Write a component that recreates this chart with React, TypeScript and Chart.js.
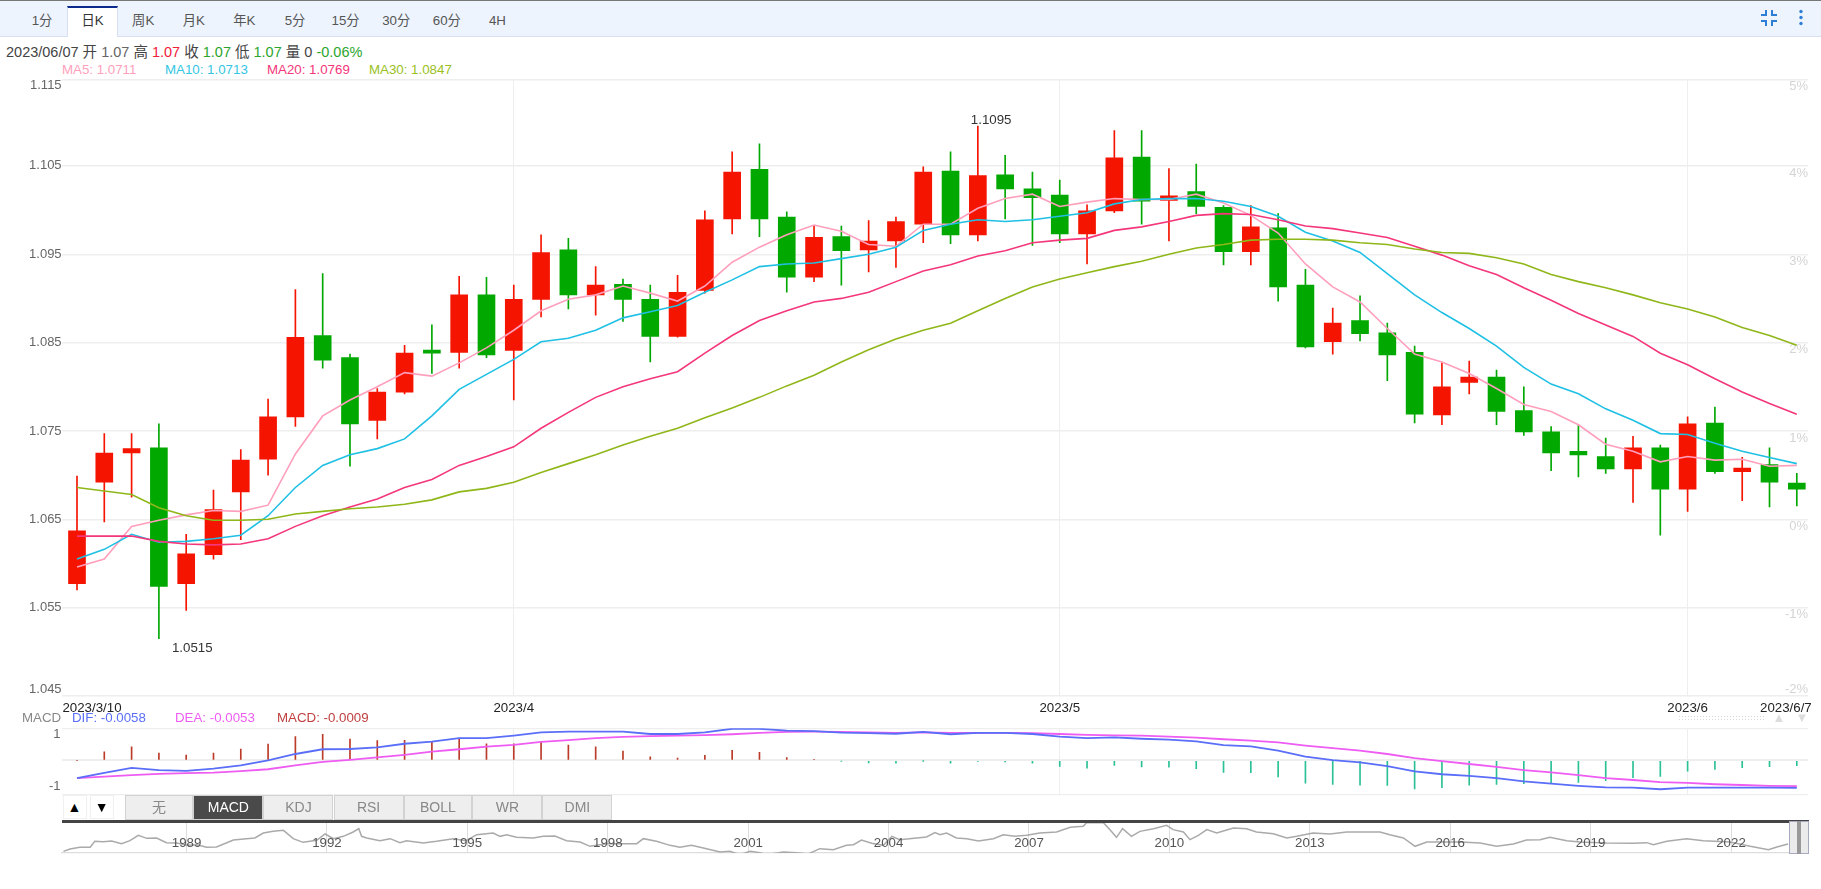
import React, { useEffect, useRef } from "react";
import { Chart, registerables } from "chart.js";

Chart.register(...registerables);

// ---------- data ----------
const dates = [
  "2023/3/10","2023/3/13","2023/3/14","2023/3/15","2023/3/16","2023/3/17","2023/3/20","2023/3/21","2023/3/22","2023/3/23","2023/3/24",
  "2023/3/27","2023/3/28","2023/3/29","2023/3/30","2023/3/31","2023/4/3","2023/4/4","2023/4/5","2023/4/6","2023/4/7",
  "2023/4/10","2023/4/11","2023/4/12","2023/4/13","2023/4/14","2023/4/17","2023/4/18","2023/4/19","2023/4/20","2023/4/21",
  "2023/4/24","2023/4/25","2023/4/26","2023/4/27","2023/4/28","2023/5/1","2023/5/2","2023/5/3","2023/5/4","2023/5/5",
  "2023/5/8","2023/5/9","2023/5/10","2023/5/11","2023/5/12","2023/5/15","2023/5/16","2023/5/17","2023/5/18","2023/5/19",
  "2023/5/22","2023/5/23","2023/5/24","2023/5/25","2023/5/26","2023/5/29","2023/5/30","2023/5/31","2023/6/1","2023/6/2",
  "2023/6/5","2023/6/6","2023/6/7",
];
const opens = [1.0577,1.0692,1.0725,1.0731,1.0577,1.061,1.0681,1.0718,1.0766,1.0858,1.0833,1.0762,1.0794,1.0839,1.0839,1.0904,1.0841,1.0899,1.0955,1.0904,1.0916,1.0899,1.0857,1.0909,1.099,1.1046,1.0992,1.0924,1.097,1.0955,1.0965,1.0984,1.1044,1.0972,1.104,1.1024,1.1017,1.0973,1.0999,1.106,1.1011,1.1021,1.1003,1.0953,1.098,1.0915,1.0851,1.0875,1.0861,1.0839,1.0768,1.0805,1.0811,1.0773,1.0749,1.0727,1.0721,1.0707,1.0731,1.0684,1.0759,1.0704,1.0712,1.0691];
const highs = [1.0699,1.0747,1.0747,1.0758,1.0633,1.0683,1.0729,1.0786,1.091,1.0928,1.0837,1.0798,1.0847,1.087,1.0925,1.0924,1.0915,1.0972,1.0968,1.0936,1.0922,1.0915,1.0926,1.0999,1.1066,1.1075,1.0998,1.0982,1.0982,1.0988,1.0992,1.1049,1.1066,1.1095,1.1062,1.1043,1.1034,1.1006,1.109,1.109,1.1047,1.1052,1.1005,1.1005,1.0996,1.0933,1.0889,1.0903,1.0872,1.0846,1.0827,1.0829,1.0819,1.08,1.0755,1.0757,1.0742,1.0744,1.0734,1.0766,1.0777,1.072,1.0731,1.0702];
const lows = [1.057,1.0647,1.0675,1.0515,1.0547,1.0605,1.0627,1.07,1.0755,1.0821,1.071,1.0741,1.0792,1.0815,1.0821,1.0833,1.0785,1.0879,1.0888,1.0881,1.0874,1.0828,1.0856,1.0906,1.0973,1.097,1.0907,1.0919,1.0915,1.093,1.0935,1.0963,1.0962,1.0965,1.099,1.096,1.0963,1.0939,1.0997,1.0984,1.0965,1.0996,1.0938,1.0938,1.0897,1.0844,1.0837,1.0852,1.0807,1.0759,1.0757,1.0792,1.0757,1.0745,1.0705,1.0698,1.0702,1.0669,1.0632,1.0659,1.0702,1.0671,1.0664,1.0665];
const closes = [1.0637,1.0725,1.073,1.0574,1.0611,1.0661,1.0717,1.0766,1.0856,1.083,1.0758,1.0794,1.0838,1.0838,1.0904,1.0836,1.0899,1.0952,1.0904,1.0915,1.0899,1.0857,1.0907,1.0989,1.1043,1.099,1.0924,1.0969,1.0954,1.0965,1.0987,1.1043,1.0972,1.1039,1.1024,1.1014,1.0973,1.0999,1.1059,1.101,1.1016,1.1004,1.0953,1.0981,1.0913,1.0845,1.0872,1.086,1.0836,1.0769,1.08,1.0811,1.0772,1.0749,1.0725,1.0723,1.0707,1.0731,1.0684,1.0758,1.0704,1.0708,1.0692,1.0684];
const ma5 = [1.0596,1.0605,1.0642,1.0649,1.0655,1.066,1.0659,1.0666,1.0724,1.0767,1.0785,1.08,1.0816,1.0812,1.0827,1.0844,1.0864,1.0886,1.0899,1.0904,1.0914,1.0906,1.0897,1.0914,1.0941,1.0958,1.0972,1.0983,1.0976,1.0961,1.0959,1.0984,1.0984,1.1002,1.1013,1.1018,1.1004,1.1009,1.1013,1.1012,1.1012,1.1018,1.1008,1.0994,1.0974,1.0939,1.0913,1.0896,1.0866,1.0837,1.0828,1.0815,1.0798,1.078,1.0772,1.0757,1.0735,1.0727,1.0715,1.0721,1.0717,1.0718,1.071,1.0711];
const ma10 = [1.0605,1.0616,1.0633,1.0624,1.0625,1.0628,1.0632,1.0654,1.0686,1.0711,1.0723,1.073,1.0741,1.0767,1.0797,1.0814,1.0831,1.0851,1.0855,1.0864,1.0878,1.0885,1.0892,1.0907,1.0921,1.0936,1.0939,1.094,1.0945,1.095,1.0958,1.0977,1.0984,1.0989,1.0987,1.0989,1.0993,1.0997,1.1007,1.1012,1.1013,1.1013,1.101,1.1004,1.0993,1.0975,1.0965,1.0952,1.0928,1.0904,1.0884,1.0866,1.0846,1.0822,1.0803,1.0792,1.0775,1.0762,1.0747,1.0746,1.0736,1.0727,1.072,1.0713];
const ma20 = [1.0631,1.0631,1.0631,1.0625,1.0622,1.0621,1.0622,1.0628,1.0642,1.0654,1.0664,1.0673,1.0686,1.0695,1.0711,1.0721,1.0732,1.0753,1.0771,1.0788,1.08,1.0809,1.0817,1.0838,1.0858,1.0875,1.0886,1.0896,1.09,1.0907,1.0919,1.0931,1.0938,1.0948,1.0954,1.0963,1.0966,1.0968,1.0977,1.0981,1.0987,1.0994,1.0996,1.0995,1.0989,1.0982,1.0979,1.0974,1.0969,1.0959,1.0949,1.0937,1.0927,1.0912,1.0898,1.0883,1.087,1.0857,1.0838,1.0825,1.0809,1.0794,1.0781,1.0769];
const ma30 = [1.0686,1.0682,1.0678,1.0663,1.0654,1.0649,1.0649,1.065,1.0656,1.0659,1.0662,1.0664,1.0667,1.0672,1.0681,1.0685,1.0692,1.0703,1.0713,1.0723,1.0734,1.0744,1.0753,1.0765,1.0776,1.0788,1.0801,1.0813,1.0828,1.0842,1.0854,1.0864,1.0872,1.0886,1.09,1.0913,1.0922,1.0929,1.0936,1.0942,1.095,1.0957,1.0961,1.0966,1.0967,1.0967,1.0966,1.0963,1.0961,1.0956,1.0952,1.0951,1.0946,1.0939,1.0927,1.0919,1.0912,1.0904,1.0895,1.0888,1.0879,1.0867,1.0858,1.0847];
const dif = [-0.68,-0.48,-0.29,-0.37,-0.4,-0.32,-0.19,0,0.24,0.42,0.43,0.49,0.63,0.71,0.84,0.84,0.94,1.06,1.09,1.09,1.09,1,1,1.06,1.2,1.2,1.13,1.11,1.05,1.03,1.01,1.08,0.99,1.04,1.04,1,0.9,0.84,0.87,0.82,0.79,0.72,0.58,0.53,0.37,0.14,0.01,-0.08,-0.22,-0.42,-0.53,-0.59,-0.68,-0.8,-0.89,-0.97,-1.03,-1.04,-1.1,-1.04,-1.04,-1.04,-1.04,-1.05];
const dea = [-0.68,-0.62,-0.56,-0.52,-0.49,-0.47,-0.41,-0.34,-0.19,-0.06,0.02,0.11,0.21,0.33,0.42,0.52,0.59,0.7,0.77,0.84,0.89,0.92,0.94,0.96,0.99,1.04,1.08,1.09,1.08,1.06,1.04,1.06,1.04,1.04,1.04,1.03,1,0.97,0.95,0.94,0.9,0.86,0.8,0.75,0.68,0.56,0.46,0.37,0.24,0.08,-0.03,-0.14,-0.25,-0.37,-0.46,-0.56,-0.68,-0.75,-0.83,-0.86,-0.91,-0.94,-0.97,-0.98];
const macdBars = [0,0.32,0.51,0.27,0.2,0.27,0.43,0.62,0.9,0.99,0.81,0.75,0.76,0.71,0.8,0.63,0.63,0.7,0.58,0.51,0.35,0.13,0.08,0.19,0.38,0.3,0.1,0.04,-0.03,-0.1,-0.11,-0.01,-0.11,-0.04,-0.06,-0.11,-0.23,-0.3,-0.19,-0.25,-0.26,-0.32,-0.46,-0.47,-0.63,-0.87,-0.92,-0.95,-0.96,-1.09,-1.04,-0.95,-0.92,-0.89,-0.89,-0.84,-0.77,-0.66,-0.61,-0.41,-0.35,-0.28,-0.24,-0.2];

const navYears = [1986.37,1986.51,1986.72,1986.94,1987.04,1987.22,1987.4,1987.61,1987.79,1987.97,1988.15,1988.36,1988.57,1988.79,1989,1989.22,1989.43,1989.64,1990,1990.28,1990.46,1990.64,1990.85,1991.07,1991.28,1991.49,1991.78,1991.96,1992.14,1992.35,1992.56,1992.68,1992.74,1992.85,1993.13,1993.35,1993.56,1993.7,1994.06,1994.34,1994.7,1994.97,1995.2,1995.55,1995.7,
  1995.84,1996.05,1996.41,1996.62,1996.87,1997.12,1997.41,1997.62,1997.98,1998.33,1998.62,1998.76,1999.04,1999.33,1999.54,1999.79,2000.11,2000.4,2000.61,2000.82,2001.04,2001.25,2001.39,2001.75,2002.04,2002.28,2002.53,2002.82,2003.1,2003.25,2003.42,2003.64,2003.89,2004.07,2004.24,2004.6,2004.81,2004.99,2005.1,
  2005.24,2005.45,2005.67,2005.92,2006.24,2006.45,2006.7,2006.95,2007.23,2007.59,2007.88,2008.16,2008.23,2008.59,2008.73,2008.87,2009,2009.19,2009.37,2009.66,2009.94,2010.08,2010.3,2010.44,2010.62,2010.8,2011.01,2011.37,2011.65,2011.86,2012.22,2012.51,2012.72,2013.07,2013.43,2013.79,2014.14,2014.5,
  2014.71,2015,2015.25,2015.5,2015.85,2016.21,2016.64,2016.99,2017.35,2017.63,2017.92,2018.13,2018.49,2018.77,2019.34,2019.91,2020.2,2020.34,2020.63,2021.05,2021.41,2021.98,2022.41,2022.8,2022.98,2023.22];
const navValues = [0.871,0.929,0.971,0.971,1.12,1.112,1.128,1.062,1.136,1.269,1.194,1.203,1.087,1.078,1.02,1.037,0.971,0.979,1.153,1.186,1.203,1.327,1.368,1.393,1.186,1.095,1.145,1.302,1.186,1.244,1.352,1.434,1.244,1.203,1.136,1.186,1.087,1.136,1.078,1.12,1.186,1.136,1.285,1.327,1.244,
  1.285,1.219,1.203,1.244,1.252,1.136,1.103,0.996,1.062,1.062,1.062,1.186,1.12,1.02,0.971,1.02,0.938,0.855,0.871,0.789,0.871,0.838,0.789,0.855,0.838,0.805,0.938,0.913,1.02,1.037,1.153,1.07,1.02,1.244,1.161,1.203,1.227,1.335,1.285,
  1.327,1.203,1.186,1.128,1.186,1.285,1.244,1.269,1.327,1.352,1.468,1.492,1.583,1.583,1.41,1.219,1.434,1.244,1.368,1.434,1.517,1.41,1.352,1.161,1.269,1.41,1.327,1.451,1.434,1.352,1.31,1.203,1.244,1.327,1.302,1.352,1.352,1.352,
  1.285,1.203,0.996,1.103,1.103,1.103,1.078,0.996,1.054,1.153,1.161,1.219,1.136,1.103,1.078,1.07,1.087,1.037,1.12,1.186,1.136,1.103,0.996,0.913,0.979,1.054];
const navTickYears = [1989,1992,1995,1998,2001,2004,2007,2010,2013,2016,2019,2022];

const tabLabels = ["1分","日K","周K","月K","年K","5分","15分","30分","60分","4H"];
const indicatorLabels = ["无","MACD","KDJ","RSI","BOLL","WR","DMI"];
const priceGridValues = [1.055,1.065,1.075,1.085,1.095,1.105];
const priceGridLabels = ["1.055","1.065","1.075","1.085","1.095","1.105"];
const pctGridValues = [4,3,2,1,0,-1];
const pctGridLabels = ["4%","3%","2%","1%","0%","-1%"];

// ---------- style / layout ----------
const FONT = '"Liberation Sans","Noto Sans CJK SC",sans-serif';
const RED = "#f51400";
const GREEN = "#00a800";
const GRID = "#eeeeee";
const MA_COLORS = ["#ff9fbc", "#1fc0e4", "#f4367a", "#8fb71a"];
const PLOT_LEFT = 61.6;
const PLOT_RIGHT = 1808;
const X_MIN = -0.564;
const X_MAX = 63.41;
const Y_MIN = 1.045;
const Y_MAX = 1.1148;
const PCT_ZERO = 1.065;
const xGridIndex = [16, 36, 59];
const xLabelSlots: [number, string][] = [
  [0.55, dates[0]],
  [16, "2023/4"],
  [36, "2023/5"],
  [59, "2023/6"],
  [62.6, dates[63]],
];
const annotations = [
  { index: 33, value: highs[33], text: "1.1095", dx: -7, dy: -6 },
  { index: 3, value: lows[3], text: "1.0515", dx: 13, dy: 10 },
];

const noInteraction = {
  responsive: false,
  animation: false as const,
  devicePixelRatio: 1,
  events: [] as string[],
  plugins: { legend: { display: false }, tooltip: { enabled: false } },
};

function useChart(make: (c: HTMLCanvasElement) => Chart) {
  const ref = useRef<HTMLCanvasElement | null>(null);
  useEffect(() => {
    if (!ref.current) return;
    const chart = make(ref.current);
    return () => chart.destroy();
  }, []);
  return ref;
}

const xy = (arr: number[]) => arr.map((y, x) => ({ x, y }));

const annotationPlugin = {
  id: "peakLabels",
  afterDatasetsDraw(chart: any) {
    const { ctx, scales } = chart;
    ctx.save();
    ctx.font = `13.3px ${FONT}`;
    ctx.fillStyle = "#333";
    ctx.textAlign = "left";
    ctx.textBaseline = "middle";
    annotations.forEach((a) => {
      ctx.fillText(a.text, scales.x.getPixelForValue(a.index) + a.dx, scales.y.getPixelForValue(a.value) + a.dy);
    });
    ctx.restore();
  },
};

function makeMain(canvas: HTMLCanvasElement) {
  const priceTicks = [Y_MIN, ...priceGridValues, Y_MAX];
  const priceLabelMap = new Map<number, string>(priceGridValues.map((v, i) => [v, priceGridLabels[i]]));
  priceLabelMap.set(1.1141, "1.115");
  priceLabelMap.set(1.0457, "1.045");
  const pctLabelMap = new Map<number, string>(pctGridValues.map((v, i) => [v - 0.08, pctGridLabels[i]]));
  pctLabelMap.set(4.9, "5%");
  pctLabelMap.set(-1.93, "-2%");
  const lineDs = (data: number[], color: string) => ({
    type: "line" as const,
    data: xy(data),
    borderColor: color,
    borderWidth: 1.6,
    pointRadius: 0,
    tension: 0,
    order: 0,
    yAxisID: "y",
  });
  return new Chart(canvas, {
    type: "bar",
    data: {
      datasets: [
        {
          data: lows.map((l, i) => ({ x: i, y: [l, highs[i]] })),
          backgroundColor: closes.map((c, i) => (c >= opens[i] ? RED : GREEN)),
          barThickness: 1,
          grouped: false,
          order: 2,
          yAxisID: "y",
        },
        {
          data: opens.map((o, i) => ({ x: i, y: [o, closes[i]] })),
          backgroundColor: closes.map((c, i) => (c >= opens[i] ? RED : GREEN)),
          barThickness: 17,
          minBarLength: 3,
          grouped: false,
          order: 1,
          yAxisID: "y",
        },
        lineDs(ma30, MA_COLORS[3]),
        lineDs(ma20, MA_COLORS[2]),
        lineDs(ma10, MA_COLORS[1]),
        lineDs(ma5, MA_COLORS[0]),
      ] as any,
    },
    plugins: [annotationPlugin],
    options: {
      ...noInteraction,
      layout: { autoPadding: false, padding: { top: 15.3, right: 1821 - PLOT_RIGHT, left: 0, bottom: 0 } },
      scales: {
        x: {
          type: "linear",
          offset: false,
          min: X_MIN,
          max: X_MAX,
          afterBuildTicks: (s: any) => {
            s.ticks = xLabelSlots.map(([value]) => ({ value }));
          },
          afterFit: (s: any) => {
            s.height = 26;
          },
          border: { display: false },
          grid: {
            offset: false,
            drawTicks: false,
            color: (c: any) => (xGridIndex.includes(c.tick?.value) ? GRID : "rgba(0,0,0,0)"),
          },
          ticks: {
            autoSkip: false,
            maxRotation: 0,
            padding: 4,
            color: "#222",
            font: { family: FONT, size: 13.3 },
            callback: (v: any) => (xLabelSlots.find(([p]) => p === v) || [0, ""])[1],
          },
        },
        y: {
          type: "linear",
          position: "left",
          min: Y_MIN,
          max: Y_MAX,
          afterBuildTicks: (s: any) => {
            s.ticks = [...priceTicks, 1.1141, 1.0457].map((value) => ({ value }));
          },
          afterFit: (s: any) => {
            s.width = PLOT_LEFT;
          },
          border: { display: false },
          grid: {
            drawTicks: false,
            color: (c: any) => (priceTicks.includes(c.tick?.value) ? GRID : "rgba(0,0,0,0)"),
            lineWidth: 1.4,
          },
          ticks: {
            autoSkip: false,
            padding: 0,
            color: "#666",
            font: { family: FONT, size: 13 },
            callback: (v: any) => priceLabelMap.get(v) ?? "",
          },
        },
        pct: {
          type: "linear",
          position: "right",
          min: (Y_MIN - PCT_ZERO) * 100,
          max: (Y_MAX - PCT_ZERO) * 100,
          afterBuildTicks: (s: any) => {
            s.ticks = [...pctLabelMap.keys()].map((value) => ({ value }));
          },
          afterFit: (s: any) => {
            s.width = 0;
          },
          border: { display: false },
          grid: { display: false, drawTicks: false },
          ticks: {
            autoSkip: false,
            mirror: true,
            padding: 0,
            color: "#d4d4d4",
            font: { family: FONT, size: 13 },
            callback: (v: any) => pctLabelMap.get(v) ?? "",
          },
        },
      } as any,
    } as any,
  });
}

function makeMacd(canvas: HTMLCanvasElement) {
  const M_MIN = -1.293;
  const M_MAX = 1.217;
  const gridTicks = [M_MIN, 0, M_MAX];
  return new Chart(canvas, {
    type: "bar",
    data: {
      datasets: [
        {
          data: xy(macdBars),
          backgroundColor: macdBars.map((v) => (v >= 0 ? "#bb3a28" : "#2cc096")),
          barThickness: 1,
          order: 2,
        },
        { type: "line", data: xy(dea), borderColor: "#ee5cf2", borderWidth: 1.8, pointRadius: 0, tension: 0, order: 1 },
        { type: "line", data: xy(dif), borderColor: "#5a6ef8", borderWidth: 1.8, pointRadius: 0, tension: 0, order: 0 },
      ] as any,
    },
    options: {
      ...noInteraction,
      layout: { autoPadding: false, padding: { top: 12.3, right: 1821 - PLOT_RIGHT, left: 0, bottom: 0 } },
      scales: {
        x: {
          type: "linear",
          offset: false,
          min: X_MIN,
          max: X_MAX,
          afterBuildTicks: (s: any) => {
            s.ticks = xGridIndex.map((value) => ({ value }));
          },
          afterFit: (s: any) => {
            s.height = 11.7;
          },
          border: { display: false },
          grid: { offset: false, drawTicks: false, color: GRID },
          ticks: { display: false },
        },
        y: {
          type: "linear",
          min: M_MIN,
          max: M_MAX,
          afterBuildTicks: (s: any) => {
            s.ticks = [...gridTicks, -1, 1].map((value) => ({ value }));
          },
          afterFit: (s: any) => {
            s.width = PLOT_LEFT;
          },
          border: { display: false },
          grid: {
            drawTicks: false,
            color: (c: any) => (gridTicks.includes(c.tick?.value) ? GRID : "rgba(0,0,0,0)"),
            lineWidth: (c: any) => (c.tick?.value === 0 ? 2 : 1.2),
          },
          ticks: {
            autoSkip: false,
            padding: 1,
            color: "#666",
            font: { family: FONT, size: 13 },
            callback: (v: any) => (v === 1 ? "1" : v === -1 ? "-1" : ""),
          },
        },
      } as any,
    } as any,
  });
}

function makeNav(canvas: HTMLCanvasElement) {
  return new Chart(canvas, {
    type: "line",
    data: {
      datasets: [
        {
          data: navYears.map((x, i) => ({ x, y: navValues[i] })),
          borderColor: "#aaaaaa",
          borderWidth: 1.5,
          pointRadius: 0,
          tension: 0,
        },
      ],
    },
    options: {
      ...noInteraction,
      layout: { autoPadding: false, padding: { top: 2, right: 1821 - 1808.7, left: PLOT_LEFT, bottom: 0 } },
      scales: {
        x: {
          type: "linear",
          min: 1986.33,
          max: 2023.66,
          afterBuildTicks: (s: any) => {
            s.ticks = navTickYears.map((value) => ({ value }));
          },
          afterFit: (s: any) => {
            s.height = 3;
          },
          border: { display: true, color: "#dddddd", width: 1.2 },
          grid: { drawTicks: false, color: "#dddddd" },
          ticks: {
            autoSkip: false,
            maxRotation: 0,
            mirror: true,
            padding: 2,
            z: 1,
            color: "#555",
            font: { family: FONT, size: 13.3 },
            callback: (v: any) => String(v),
          },
        },
        y: { type: "linear", display: false, min: 0.83, max: 1.6 },
      } as any,
    } as any,
  });
}

const abs = (left: number, top: number, width?: number, height?: number): React.CSSProperties => ({
  position: "absolute",
  left,
  top,
  width,
  height,
  boxSizing: "border-box",
});

function Text({ x, y, color, size = 13.3, children }: any) {
  return (
    <div style={{ position: "absolute", left: x, top: y, lineHeight: "16px", fontSize: size, color, whiteSpace: "nowrap" }}>
      {children}
    </div>
  );
}

const indicatorEdges = [124.5, 193.3, 263.4, 333.5, 403.6, 472.3, 542.4, 612.5];

export default function App() {
  const mainRef = useChart(makeMain);
  const macdRef = useChart(makeMacd);
  const navRef = useChart(makeNav);
  useEffect(() => {
    document.body.style.margin = "0";
    document.body.style.background = "#fff";
  }, []);
  return (
    <div style={{ ...abs(0, 0, 1821, 889), background: "#fff", overflow: "hidden", fontFamily: FONT }}>
      {/* toolbar */}
      <div style={{ ...abs(0, 0, 1821, 37), background: "#edf4fe", borderBottom: "1px solid #d6e0f0", borderTop: "1px solid #777" }} />
      {tabLabels.map((t, i) => {
        const left = 16.7 + i * 50.6;
        const on = i === 1;
        return (
          <div
            key={t}
            style={{
              ...abs(left, 6, 50.6, 31),
              background: on ? "#fff" : "transparent",
              borderTop: on ? "2px solid #0b2a8c" : "2px solid transparent",
              borderLeft: on ? "1px solid #d6e0f0" : undefined,
              borderRight: on ? "1px solid #d6e0f0" : undefined,
              textAlign: "center",
              lineHeight: "26px",
              fontSize: 13.3,
              color: on ? "#333" : "#555",
            }}
          >
            {t}
          </div>
        );
      })}
      <svg style={abs(1758, 8, 22, 20)} viewBox="0 0 22 20" fill="none" stroke="#2d7fd6" strokeWidth="2">
        <path d="M8 2 V7 H3 M14 2 V7 H19 M8 18 V13 H3 M14 18 V13 H19" />
      </svg>
      <svg style={abs(1794, 8, 14, 20)} viewBox="0 0 14 20" fill="#2d7fd6">
        <circle cx="7" cy="3.5" r="1.7" />
        <circle cx="7" cy="9.5" r="1.7" />
        <circle cx="7" cy="15.5" r="1.7" />
      </svg>

      {/* quote header */}
      <Text x={6} y={44} size={14.5} color="#444">
        2023/06/07 开 <span style={{ color: "#666" }}>1.07</span> 高 <span style={{ color: "#f0203a" }}>1.07</span> 收{" "}
        <span style={{ color: "#2ca52c" }}>1.07</span> 低 <span style={{ color: "#2ca52c" }}>1.07</span> 量 0{" "}
        <span style={{ color: "#2ca52c" }}>-0.06%</span>
      </Text>
      <Text x={62} y={62} color={MA_COLORS[0]}>MA5: 1.0711</Text>
      <Text x={165} y={62} color="#34c6e4">MA10: 1.0713</Text>
      <Text x={267} y={62} color={MA_COLORS[2]}>MA20: 1.0769</Text>
      <Text x={369} y={62} color="#9abf1e">MA30: 1.0847</Text>

      <canvas ref={mainRef} width={1821} height={658} style={{ ...abs(0, 64, 1821, 658), display: "block" }} />

      {/* MACD header */}
      <Text x={22} y={710} color="#888">MACD</Text>
      <Text x={72} y={710} color="#5a6ef8">DIF: -0.0058</Text>
      <Text x={175} y={710} color="#ee5cf2">DEA: -0.0053</Text>
      <Text x={277} y={710} color="#c04040">MACD: -0.0009</Text>
      <div style={{ ...abs(1678, 715, 86, 6), backgroundImage: "radial-gradient(#d8d8d8 1px, transparent 1px)", backgroundSize: "3px 3px" }} />
      <div style={{ ...abs(1772, 711, 14, 14), color: "#ddd", fontSize: 13, lineHeight: "14px", textAlign: "center" }}>▲</div>
      <div style={{ ...abs(1795, 711, 14, 14), color: "#ddd", fontSize: 13, lineHeight: "14px", textAlign: "center" }}>▼</div>

      <canvas ref={macdRef} width={1821} height={90} style={{ ...abs(0, 716, 1821, 90), display: "block" }} />

      {/* indicator buttons */}
      {["▲", "▼"].map((t, i) => (
        <div
          key={t}
          style={{ ...abs(i === 0 ? 62.5 : 89.7, 795, 24, 24), border: "1px solid #f0f0f0", background: "#fff", color: "#000", fontSize: 14, lineHeight: "22px", textAlign: "center" }}
        >
          {t}
        </div>
      ))}
      {indicatorLabels.map((t, i) => {
        const on = t === "MACD";
        return (
          <div
            key={t}
            style={{
              ...abs(indicatorEdges[i], 795, indicatorEdges[i + 1] - indicatorEdges[i], 24.5),
              background: on ? "#4a4a4a" : "#eeeeee",
              border: "1px solid #d2d2d2",
              color: on ? "#fff" : "#888",
              fontSize: 14,
              lineHeight: "23px",
              textAlign: "center",
            }}
          >
            {t}
          </div>
        );
      })}

      {/* navigator */}
      <canvas ref={navRef} width={1821} height={36} style={{ ...abs(0, 820, 1821, 36), display: "block" }} />
      <div style={{ ...abs(PLOT_LEFT, 820, 1808.7 - PLOT_LEFT, 2.5), background: "#444" }} />
      <div style={{ ...abs(1788.6, 821, 20.1, 32.5), background: "#ebebeb", border: "1px solid #a6a9c0" }} />
      <div style={{ ...abs(1796.6, 821, 4, 32.5), background: "#999" }} />
    </div>
  );
}
